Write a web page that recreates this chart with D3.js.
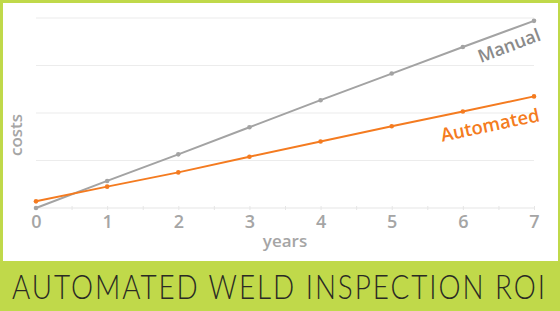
<!DOCTYPE html>
<html>
<head>
<meta charset="utf-8">
<script src="https://cdn.jsdelivr.net/npm/d3@7"></script>
<style>
  body { margin: 0; background: #c0d94a; }
  svg { display: block; }
</style>
</head>
<body>
<div id="chart"></div>
<script>
const years = [0, 1, 2, 3, 4, 5, 6, 7];
const manualCosts = [0, 5.7, 11.3, 17.0, 22.7, 28.3, 33.9, 39.4];
const automatedCosts = [1.4, 4.5, 7.5, 10.8, 14.0, 17.2, 20.3, 23.5];
const gridValues = [10, 20, 30, 40];
const title = "AUTOMATED WELD INSPECTION ROI";

const W = 560, H = 311;
const green = "#c0d94a", grey = "#a3a3a3", orange = "#f47b20";

let svg = d3.select("#chart")
    .append("svg")
    .attr("width", W)
    .attr("height", H);

svg.append("rect")
    .attr("width", W).attr("height", H)
    .attr("fill", green);

// white panel
svg.append("rect")
    .attr("x", 3).attr("y", 3)
    .attr("width", 555).attr("height", 258)
    .attr("fill", "#fff");

var x = d3.scaleLinear().domain([0, 7]).range([36, 534]);
var y = d3.scaleLinear().domain([0, 40]).range([208, 18]);

// gridlines
svg.append("g")
    .selectAll("line")
    .data(gridValues)
    .join("line")
    .attr("x1", x(0)).attr("x2", x(7))
    .attr("y1", d => y(d)).attr("y2", d => y(d))
    .attr("stroke", "#ececec")
    .attr("stroke-width", 1.2);

// x axis
const xAxis = d3.axisBottom(x)
    .tickValues(d3.range(0, 7.01, 0.5))
    .tickSize(4)
    .tickFormat(d => Number.isInteger(d) ? d : "");

let xDisplay = svg.append("g")
    .attr("transform", `translate(0, ${y(0) - 2})`)
    .call(xAxis);
xDisplay.select(".domain")
    .attr("d", `M${x(0)},2H${x(7)}`)
    .attr("stroke", "#e6e6e6")
    .attr("stroke-width", 1.2);
xDisplay.selectAll(".tick line").attr("stroke", "#e6e6e6");
xDisplay.selectAll(".tick text")
    .attr("y", 9)
    .attr("fill", "#a5a5a5")
    .attr("font-family", "'Open Sans', sans-serif")
    .attr("font-weight", 600)
    .attr("font-size", 18);

// axis labels
svg.append("text")
    .attr("x", 285).attr("y", 247)
    .attr("text-anchor", "middle")
    .attr("fill", "#a5a5a5")
    .attr("font-family", "'Open Sans', sans-serif")
    .attr("font-weight", 600)
    .attr("font-size", 17)
    .text("years");

svg.append("text")
    .attr("transform", "translate(22, 135) rotate(-90)")
    .attr("text-anchor", "middle")
    .attr("fill", "#a5a5a5")
    .attr("font-family", "'Open Sans', sans-serif")
    .attr("font-weight", 600)
    .attr("font-size", 17)
    .text("costs");

// lines
const series = [
    { name: "Manual", values: manualCosts, color: grey },
    { name: "Automated", values: automatedCosts, color: orange }
];

const line = d3.line()
    .x((d, i) => x(years[i]))
    .y(d => y(d));

series.forEach(s => {
    svg.append("path")
        .datum(s.values)
        .attr("d", line)
        .attr("fill", "none")
        .attr("stroke", s.color)
        .attr("stroke-width", 2);
    svg.append("g")
        .selectAll("circle")
        .data(s.values)
        .join("circle")
        .attr("cx", (d, i) => x(years[i]))
        .attr("cy", d => y(d))
        .attr("r", 2.3)
        .attr("fill", s.color);
});

// line labels
function angleOf(values) {
    const dx = x(7) - x(0), dy = y(values[7]) - y(values[0]);
    return Math.atan2(dy, dx) * 180 / Math.PI;
}

svg.append("text")
    .attr("transform", `translate(${x(6.68)}, ${y(37.6) + 22}) rotate(${angleOf(manualCosts)})`)
    .attr("text-anchor", "middle")
    .attr("fill", "#8a8a8a")
    .attr("font-family", "'Open Sans', sans-serif")
    .attr("font-weight", 600)
    .attr("font-size", 18)
    .text("Manual");

svg.append("text")
    .attr("transform", `translate(${x(6.4)}, ${y(21.6) + 26}) rotate(${angleOf(automatedCosts)})`)
    .attr("text-anchor", "middle")
    .attr("fill", orange)
    .attr("font-family", "'Open Sans', sans-serif")
    .attr("font-weight", 600)
    .attr("font-size", 18.5)
    .text("Automated");

// title (condensed look via horizontal scaling)
const sx = 0.82;
const titleText = svg.append("text")
    .attr("transform", `translate(12, 299) scale(${sx}, 1)`)
    .attr("fill", "#2a2a24")
    .attr("font-family", "Lato, sans-serif")
    .attr("font-weight", 300)
    .attr("font-size", 34)
    .text(title);
const natural = titleText.node().getComputedTextLength();
titleText.attr("letter-spacing", (533 / sx - natural) / (title.length - 1));
</script>
</body>
</html>
